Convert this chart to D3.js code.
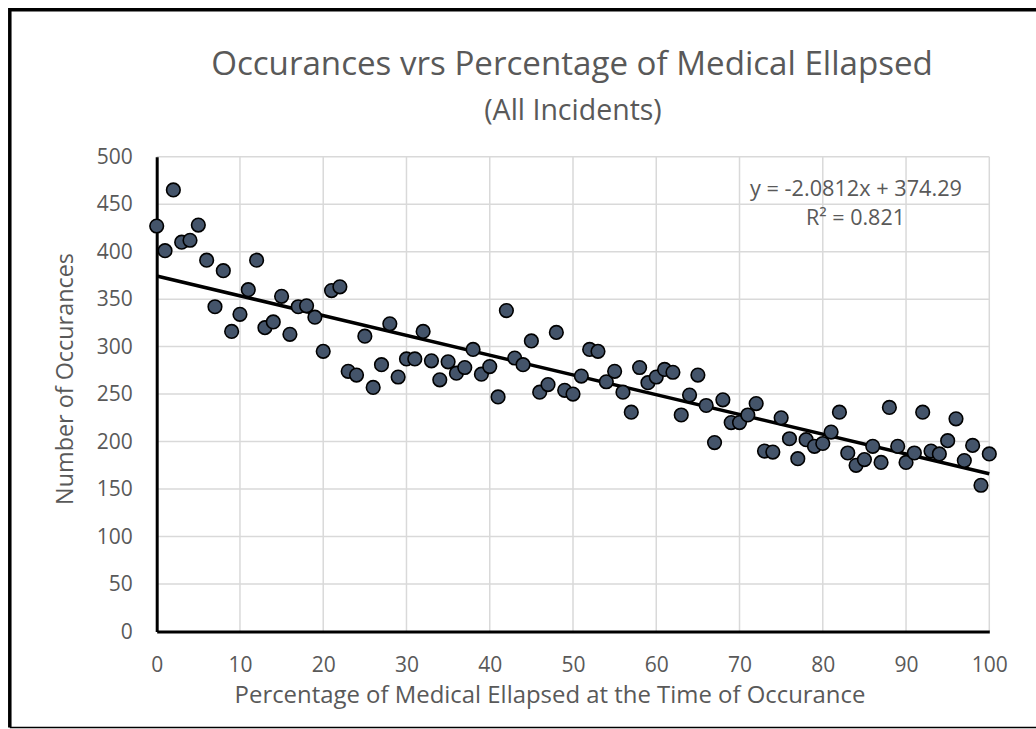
<!DOCTYPE html>
<html>
<head>
<meta charset="utf-8">
<script src="https://cdn.jsdelivr.net/npm/d3@7"></script>
<style>
  body { margin: 0; background: #fff; }
  text { font-family: "Open Sans", sans-serif; fill: #595959; }
</style>
</head>
<body>
<svg width="1036" height="729"></svg>
<script>
// percentage of medical elapsed (0..100) and the count at each step
var pct = d3.range(0, 101);
var counts = [
  427, 401, 465, 410, 412, 428, 391, 342, 380, 316,
  334, 360, 391, 320, 326, 353, 313, 342, 343, 331,
  295, 359, 363, 274, 270, 311, 257, 281, 324, 268,
  287, 287, 316, 285, 265, 284, 272, 278, 297, 271,
  279, 247, 338, 288, 281, 306, 252, 260, 315, 254,
  250, 269, 297, 295, 263, 274, 252, 231, 278, 262,
  268, 276, 273, 228, 249, 270, 238, 199, 244, 220,
  220, 228, 240, 190, 189, 225, 203, 182, 202, 195,
  198, 210, 231, 188, 175, 181, 195, 178, 236, 195,
  178, 188, 231, 190, 187, 201, 224, 180, 196, 154,
  187
];
var xTicks = [0, 10, 20, 30, 40, 50, 60, 70, 80, 90, 100];
var yTicks = [0, 50, 100, 150, 200, 250, 300, 350, 400, 450, 500];
var slope = -2.0812, intercept = 374.29;
var titleLines = ["Occurances vrs Percentage of Medical Ellapsed", "(All Incidents)"];

var svg = d3.select("svg");
var plotL = 156.7, plotR = 989.3, plotT = 156.7, plotB = 631.5;

var x = d3.scaleLinear().domain([0, 100]).range([plotL, plotR]);
var y = d3.scaleLinear().domain([0, 500]).range([plotB, plotT]);

// squeeze a text to a given width by changing its font size
function fit(sel, w) {
  var size = parseFloat(sel.style("font-size"));
  var len = sel.node().getComputedTextLength();
  sel.style("font-size", (size * w / len) + "px");
  return sel;
}

// outer frame
svg.append("path")
    .attr("d", "M 1040,9.8 L 9.8,9.8 L 9.8,727.5")
    .attr("fill", "none")
    .attr("stroke", "#000")
    .attr("stroke-width", 3.5);
svg.append("line")
    .attr("x1", 9.8).attr("x2", 1036)
    .attr("y1", 727.5).attr("y2", 727.5)
    .attr("stroke", "#000")
    .attr("stroke-width", 1.5);

// grid
svg.append("g").selectAll("line")
    .data(yTicks.slice(1))
    .enter().append("line")
    .attr("x1", plotL).attr("x2", plotR)
    .attr("y1", function(d) { return y(d); })
    .attr("y2", function(d) { return y(d); })
    .attr("stroke", "#d9d9d9")
    .attr("stroke-width", 1.5);

svg.append("g").selectAll("line")
    .data(xTicks.slice(1))
    .enter().append("line")
    .attr("y1", plotT).attr("y2", plotB)
    .attr("x1", function(d) { return x(d); })
    .attr("x2", function(d) { return x(d); })
    .attr("stroke", "#d9d9d9")
    .attr("stroke-width", 1.5);

// axes
var xAxis = svg.append("g")
    .attr("transform", "translate(0," + plotB + ")")
    .call(d3.axisBottom(x).tickValues(xTicks).tickSize(0).tickPadding(26));
var yAxis = svg.append("g")
    .attr("transform", "translate(" + plotL + ",0)")
    .call(d3.axisLeft(y).tickValues(yTicks).tickSize(0).tickPadding(24));

[xAxis, yAxis].forEach(function(a) {
  a.select(".domain").attr("stroke", "#000").attr("stroke-width", 3);
  a.selectAll("text")
      .style("font-family", "'Open Sans', sans-serif")
      .style("font-size", "21px")
      .attr("fill", "#595959");
});

// trend line
svg.append("line")
    .attr("x1", x(0)).attr("y1", y(intercept))
    .attr("x2", x(100)).attr("y2", y(slope * 100 + intercept))
    .attr("stroke", "#000")
    .attr("stroke-width", 3.5);

// points
svg.append("g").selectAll("circle")
    .data(pct)
    .enter().append("circle")
    .attr("cx", function(d) { return x(d); })
    .attr("cy", function(d, i) { return y(counts[i]); })
    .attr("r", 6.8)
    .attr("fill", "#44546a")
    .attr("stroke", "#000")
    .attr("stroke-width", 1.6);

// equation
fit(svg.append("text")
    .attr("x", 856).attr("y", 196)
    .attr("text-anchor", "middle")
    .style("font-size", "18px")
    .text("y = -2.0812x + 374.29"), 212);
fit(svg.append("text")
    .attr("x", 855.5).attr("y", 225)
    .attr("text-anchor", "middle")
    .style("font-size", "18px")
    .text("R² = 0.821"), 99);

// titles
fit(svg.append("text")
    .attr("x", 572).attr("y", 75)
    .attr("text-anchor", "middle")
    .style("font-size", "30px")
    .text(titleLines[0]), 722);
svg.append("text")
    .attr("x", 573).attr("y", 120)
    .attr("text-anchor", "middle")
    .style("font-size", "28.5px")
    .text(titleLines[1]);

fit(svg.append("text")
    .attr("x", 550).attr("y", 703)
    .attr("text-anchor", "middle")
    .style("font-size", "20px")
    .text("Percentage of Medical Ellapsed at the Time of Occurance"), 631);

fit(svg.append("text")
    .attr("transform", "translate(73,379) rotate(-90)")
    .attr("text-anchor", "middle")
    .style("font-size", "20px")
    .text("Number of Occurances"), 252);
</script>
</body>
</html>
